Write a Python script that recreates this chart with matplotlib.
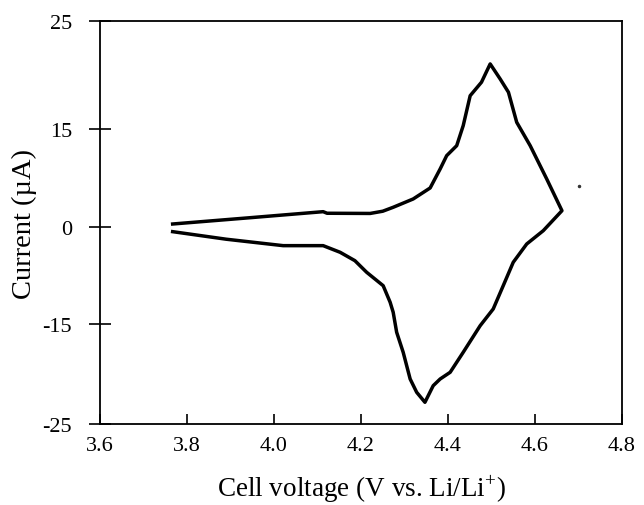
import numpy as np
import matplotlib
matplotlib.use("Agg")
import matplotlib.pyplot as plt

plt.rcParams['font.family'] = ['Liberation Serif', 'DejaVu Serif']
plt.rcParams['mathtext.fontset'] = 'custom'
plt.rcParams['mathtext.rm'] = 'Liberation Serif'

# cyclic voltammogram, one closed loop
# anodic scan 3.77 -> 4.66 V
v_up = [3.767, 3.945, 4.113, 4.122, 4.221, 4.250, 4.274, 4.320, 4.359, 4.382,
        4.397, 4.420, 4.435, 4.451, 4.477, 4.497, 4.520, 4.539, 4.558, 4.589,
        4.627, 4.662]
i_up = [0.50, 1.46, 2.38, 2.14, 2.11, 2.45, 3.05, 4.32, 6.00, 8.90,
        10.93, 12.45, 15.31, 18.09, 19.34, 21.04, 19.64, 18.41, 15.62, 12.45,
        7.37, 2.53]
# cathodic scan back to 3.77 V
v_down = [4.662, 4.619, 4.581, 4.550, 4.527, 4.504, 4.474, 4.435, 4.405, 4.382,
          4.366, 4.347, 4.328, 4.313, 4.297, 4.282, 4.274, 4.267, 4.251, 4.213,
          4.186, 4.152, 4.113, 4.021, 3.890, 3.767]
i_down = [2.53, -0.53, -2.59, -5.43, -9.06, -12.67, -15.17, -17.83, -19.83, -20.5,
          -21.17, -22.83, -21.83, -20.5, -17.83, -15.83, -13.18, -11.63, -9.06, -6.98,
          -5.18, -3.88, -2.85, -2.85, -1.85, -0.68]
# stray dot right of the vertex
dot_v = [4.701]
dot_i = [6.35]

x_ticks = [3.6, 3.8, 4.0, 4.2, 4.4, 4.6, 4.8]
x_labels = ['3.6', '3.8', '4.0', '4.2', '4.4', '4.6', '4.8']
y_ticks = [-25, -15, 0, 15, 25]
y_labels = ['-25', '-15', '0', '15', '25']
# the original y ticks are drawn evenly although the values are not
y_pos = [-196.7, -96.7, 0.0, 98.3, 206.0]


def fwd(y):
    return np.interp(y, y_ticks, y_pos)


def inv(t):
    return np.interp(t, y_pos, y_ticks)


fig = plt.figure(figsize=(6.44, 5.06), dpi=100)
ax = fig.add_axes([0.1553, 0.1601, 0.8105, 0.7959])

ax.plot(v_up + v_down, i_up + i_down, color='black', lw=2.5,
        solid_joinstyle='round')
ax.plot(dot_v, dot_i, 'o', color='#333333', ms=1.5)

ax.set_yscale('function', functions=(fwd, inv))
ax.set_xlim(3.6, 4.8)
ax.set_ylim(-25, 25)
ax.set_xticks(x_ticks)
ax.set_xticklabels(x_labels)
ax.set_yticks(y_ticks)
ax.set_yticklabels(y_labels)
ax.minorticks_off()

ax.tick_params(axis='x', direction='in', length=7, width=1.2, pad=9,
               labelsize=16, top=False)
ax.tick_params(axis='y', direction='inout', length=16, width=1.2, pad=12,
               labelsize=16, right=False)
for s in ax.spines.values():
    s.set_linewidth(1.3)

ax.set_xlabel('Cell voltage (V vs. Li/Li$^{+}$)', fontsize=19.5, labelpad=12)
ax.set_ylabel('Current (\u00b5A)', fontsize=20.5, labelpad=4)

fig.savefig('out.png', dpi=100)
